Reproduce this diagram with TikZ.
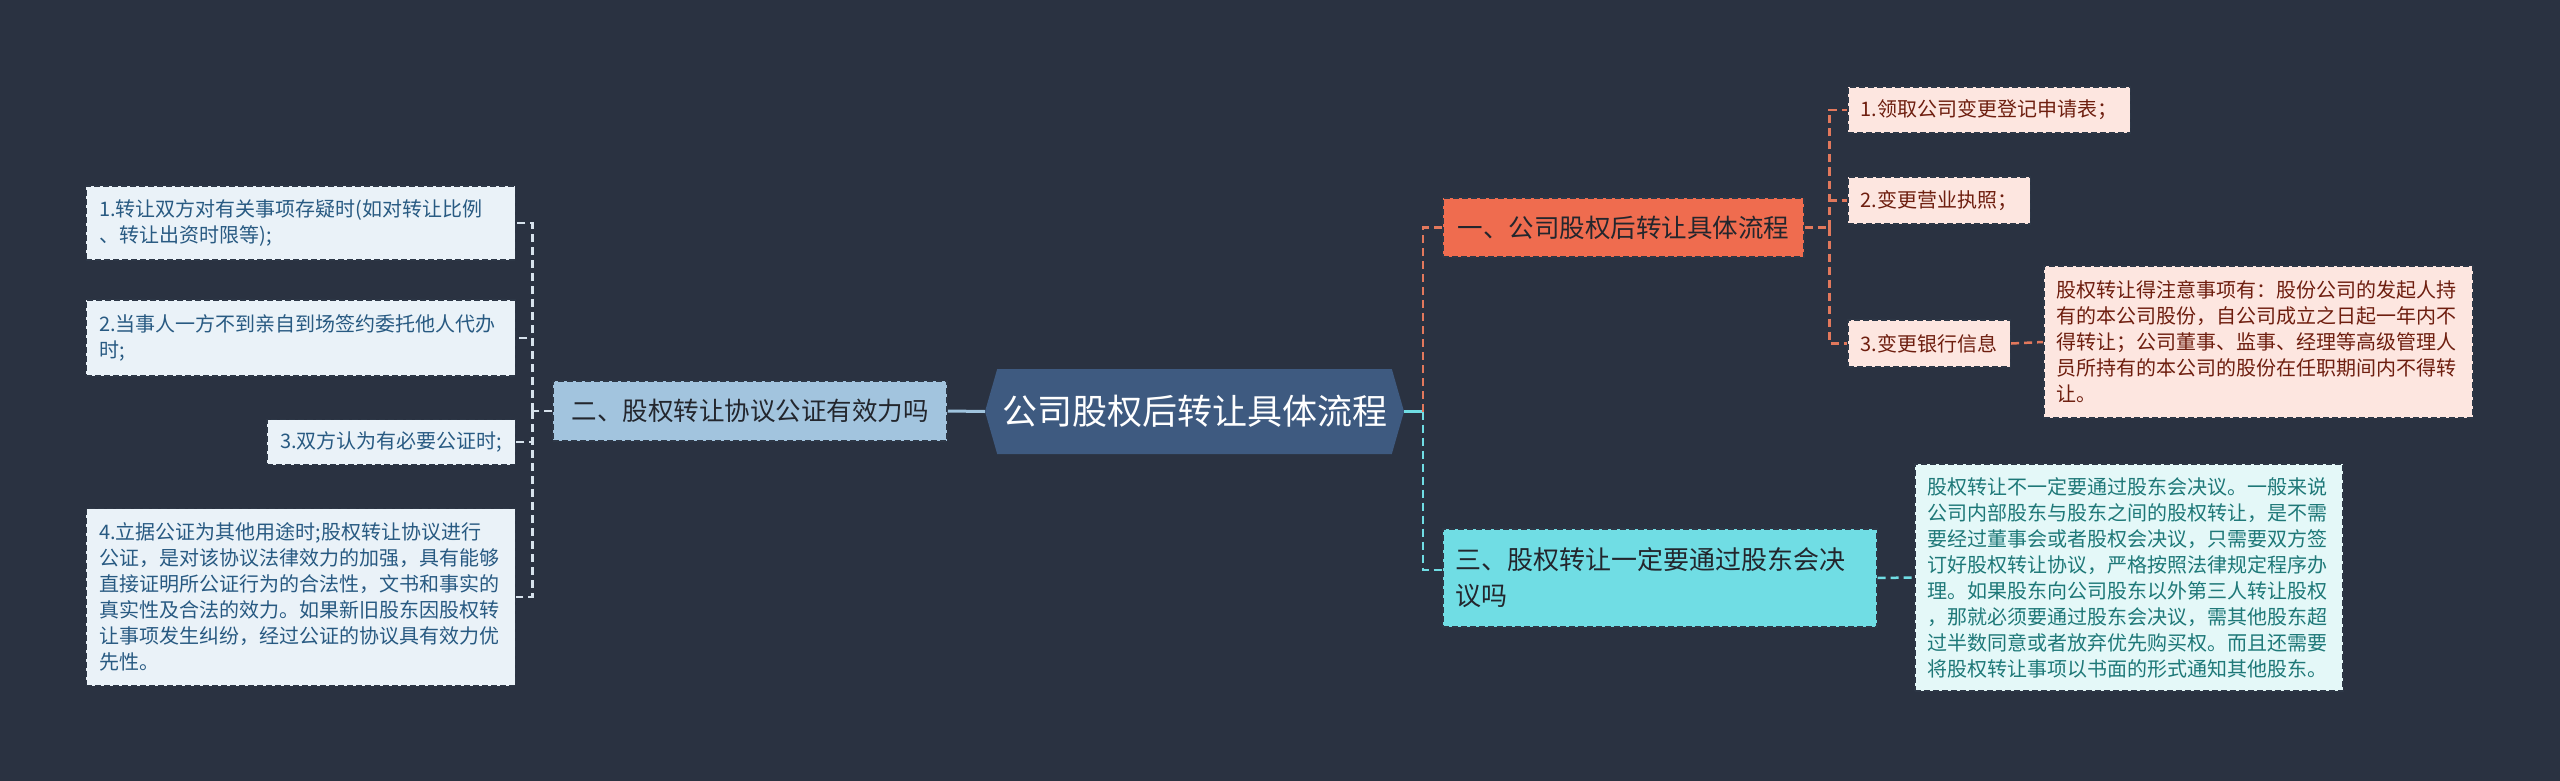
\documentclass[tikz,border=0pt]{standalone}
\usepackage{fontspec}
\usepackage{tikz}
\usetikzlibrary{shapes.symbols}
\newfontfamily\cjk{Noto Sans CJK SC}
\definecolor{bgnavy}{RGB}{42,50,65}
\definecolor{rootblue}{RGB}{62,90,128}
\definecolor{edgedark}{RGB}{45,55,70}
\definecolor{branchblue}{RGB}{162,196,222}
\definecolor{lineblue}{RGB}{160,196,222}
\definecolor{leafblue}{RGB}{234,242,248}
\definecolor{textblue}{RGB}{40,90,130}
\definecolor{linelight}{RGB}{215,226,236}
\definecolor{accentorange}{RGB}{239,108,79}
\definecolor{leafpink}{RGB}{253,230,224}
\definecolor{textred}{RGB}{110,30,15}
\definecolor{lineorange}{RGB}{226,120,92}
\definecolor{accentcyan}{RGB}{112,221,228}
\definecolor{leafcyan}{RGB}{228,248,248}
\definecolor{textteal}{RGB}{30,120,120}
\definecolor{textdark}{RGB}{35,38,45}

\tikzset{
  rootnode/.style={signal, signal to=west and east, signal pointer angle=148,
    fill=rootblue, text=white, minimum width=419pt, minimum height=85pt,
    inner sep=0pt, font=\cjk\fontsize{35}{42}\selectfont},
  branch/.style={draw=edgedark, line width=1.5pt, dash pattern=on 6pt off 3pt,
    inner xsep=13pt, inner ysep=0pt, align=left, text=textdark,
    font=\cjk\fontsize{25.5}{36}\selectfont},
  leaf/.style={draw=edgedark, line width=1.5pt, dash pattern=on 6pt off 3pt,
    inner xsep=13pt, inner ysep=0pt, align=left,
    font=\cjk\fontsize{20}{26}\selectfont},
  leafleft/.style={leaf, fill=leafblue, text=textblue},
  leafright/.style={leaf, fill=leafpink, text=textred},
  leafteal/.style={leaf, fill=leafcyan, text=textteal},
  link/.style={line width=2.5pt, dash pattern=on 8pt off 5pt}
}

\begin{document}
\begin{tikzpicture}[x=1pt,y=-1pt]
\useasboundingbox (0,0) rectangle (2560,781);
\fill[bgnavy] (0,0) rectangle (2560,781);

% centre topic
\node[rootnode] (root) at (1194.5,411.5) {公司股权后转让具体流程};

% left side
\node[branch, fill=branchblue, minimum width=394pt, minimum height=60pt] (lb) at (750,411) {二、股权转让协议公证有效力吗};

\node[leafleft, text width=403pt, minimum height=74pt, anchor=east] (l1) at (516,223)
  {1.转让双方对有关事项存疑时(如对转让比例\\、转让出资时限等);};
\node[leafleft, text width=403pt, minimum height=76pt, anchor=east] (l2) at (516,338)
  {2.当事人一方不到亲自到场签约委托他人代办\\时;};
\node[leafleft, minimum height=45pt, anchor=east] (l3) at (516,442)
  {3.双方认为有必要公证时;};
\node[leafleft, text width=403pt, minimum height=177pt, anchor=east] (l4) at (516,597)
  {4.立据公证为其他用途时;股权转让协议进行\\公证，是对该协议法律效力的加强，具有能够\\直接证明所公证行为的合法性，文书和事实的\\真实性及合法的效力。如果新旧股东因股权转\\让事项发生纠纷，经过公证的协议具有效力优\\先性。};

% right side, first branch
\node[branch, fill=accentorange, minimum width=361pt, minimum height=59pt, anchor=west] (b1) at (1442,227.5) {一、公司股权后转让具体流程};

\node[leafright, minimum height=46pt, anchor=west] (r1) at (1847,110) {1.领取公司变更登记申请表；};
\node[leafright, minimum height=47pt, anchor=west] (r2) at (1847,200.5) {2.变更营业执照；};
\node[leafright, minimum height=47pt, anchor=west] (r3) at (1847,343.5) {3.变更银行信息};
\node[leafright, text width=403pt, minimum height=152pt, anchor=west] (d1) at (2043,342)
  {股权转让得注意事项有：股份公司的发起人持\\有的本公司股份，自公司成立之日起一年内不\\得转让；公司董事、监事、经理等高级管理人\\员所持有的本公司的股份在任职期间内不得转\\让。};

% right side, second branch
\node[branch, fill=accentcyan, text width=408pt, minimum height=98pt, anchor=west,
  font=\cjk\fontsize{26}{36}\selectfont] (b3) at (1442,578)
  {三、股权转让一定要通过股东会决\\议吗};
\node[leafteal, text width=402pt, minimum height=227pt, anchor=west] (d3) at (1914,577.5)
  {股权转让不一定要通过股东会决议。一般来说\\公司内部股东与股东之间的股权转让，是不需\\要经过董事会或者股权会决议，只需要双方签\\订好股权转让协议，严格按照法律规定程序办\\理。如果股东向公司股东以外第三人转让股权\\，那就必须要通过股东会决议，需其他股东超\\过半数同意或者放弃优先购买权。而且还需要\\将股权转让事项以书面的形式通知其他股东。};

% connectors
\draw[lineblue, line width=3pt] (root.west) -- (lb.east);
\draw[link, linelight] (lb.west) -- ++(-20,0) coordinate (lfork);
\foreach \n in {l1,l2,l3,l4}
  \draw[link, linelight] (lfork) |- (\n.east);

\draw[accentcyan, line width=3pt] (root.east) -- ++(19,0) coordinate (rfork);
\draw[link, lineorange] (rfork) |- (b1.west);
\draw[link, accentcyan] (rfork) |- ([yshift=8pt]b3.west);

\draw[link, lineorange] (b1.east) -- ++(25,0) coordinate (bfork);
\foreach \n in {r1,r2,r3}
  \draw[link, lineorange] (bfork) |- (\n.west);
\draw[link, lineorange] (r3.east) -- (d1.west);
\draw[link, accentcyan] (b3.east) -- (d3.west);
\end{tikzpicture}
\end{document}
